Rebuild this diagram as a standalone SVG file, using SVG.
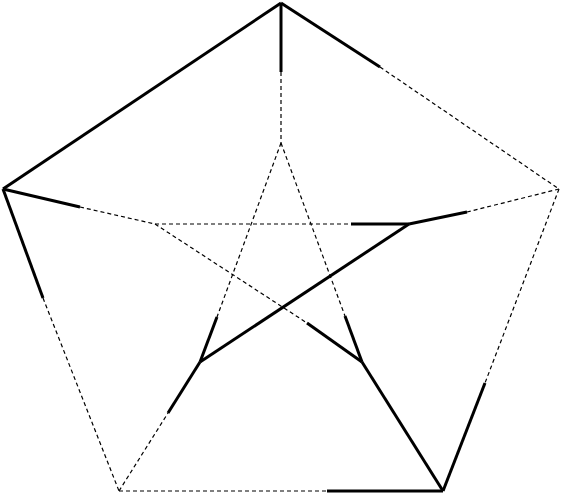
<svg xmlns="http://www.w3.org/2000/svg" width="562" height="494" viewBox="0 0 562 494">
<style>
.s{stroke:#000;stroke-width:3;fill:none;stroke-linecap:butt}
.d{stroke:#000;stroke-width:1.2;fill:none;stroke-dasharray:4,3}
</style>
<rect width="562" height="494" fill="#fff"/>
<g id="connectors">
<!-- outer pentagon -->
<line class="s" x1="281" y1="3" x2="3" y2="189"/>
<line class="s" x1="281" y1="3" x2="380" y2="67"/>
<line class="d" x1="380" y1="67" x2="559" y2="189"/>
<line class="s" x1="3" y1="189" x2="43" y2="298"/>
<line class="d" x1="43" y1="298" x2="119" y2="491"/>
<line class="d" x1="559" y1="189" x2="485" y2="383"/>
<line class="s" x1="485" y1="383" x2="443" y2="491"/>
<line class="d" x1="119" y1="491" x2="327" y2="491"/>
<line class="s" x1="327" y1="491" x2="443" y2="491"/>
<!-- spokes -->
<line class="s" x1="281" y1="3" x2="281" y2="72"/>
<line class="d" x1="281" y1="72" x2="281" y2="143"/>
<line class="s" x1="3" y1="189" x2="80" y2="207"/>
<line class="d" x1="80" y1="207" x2="155" y2="224"/>
<line class="d" x1="559" y1="189" x2="467" y2="212"/>
<line class="s" x1="467" y1="212" x2="409" y2="224"/>
<line class="d" x1="119" y1="491" x2="168" y2="413"/>
<line class="s" x1="168" y1="413" x2="200" y2="362"/>
<line class="s" x1="443" y1="491" x2="362" y2="362"/>
<!-- inner pentagram -->
<line class="d" x1="281" y1="143" x2="217" y2="317"/>
<line class="s" x1="217" y1="317" x2="200" y2="362"/>
<line class="d" x1="281" y1="143" x2="345" y2="316"/>
<line class="s" x1="345" y1="316" x2="362" y2="362"/>
<line class="d" x1="155" y1="224" x2="351" y2="224"/>
<line class="s" x1="351" y1="224" x2="409" y2="224"/>
<line class="d" x1="155" y1="224" x2="307" y2="323"/>
<line class="s" x1="307" y1="323" x2="362" y2="362"/>
<line class="s" x1="409" y1="224" x2="200" y2="362"/>
</g>
</svg>
